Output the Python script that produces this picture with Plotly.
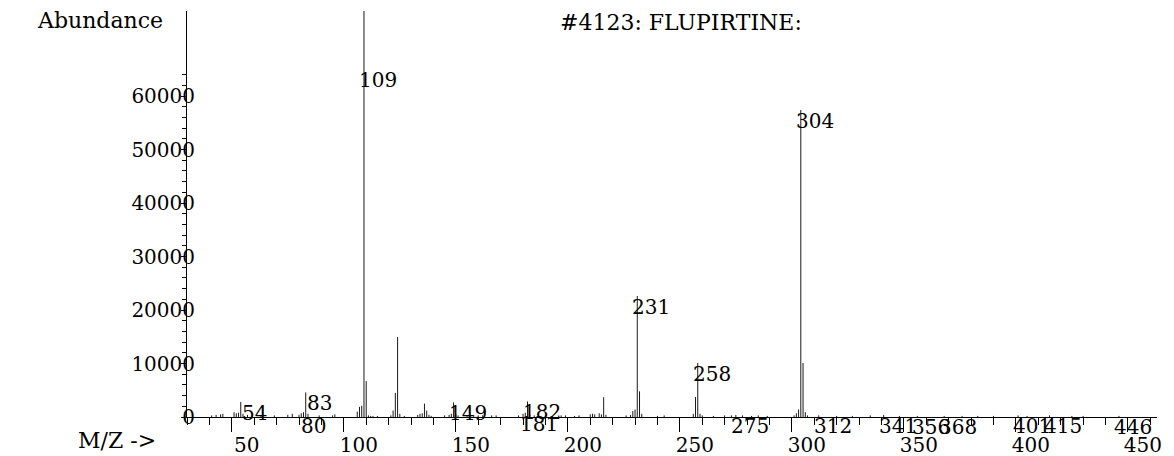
import plotly.graph_objects as go

# ---- data ----
MZ = [41, 43, 45, 46, 51, 52, 53, 54, 55, 57, 63, 69, 75, 77, 80, 81, 82, 83, 84, 89,
      95, 96, 106, 107, 108, 109, 110, 111, 112, 113, 115, 121, 122, 123, 124, 125, 127,
      133, 134, 135, 136, 137, 138, 139, 145, 147, 148, 149, 150, 151, 155, 158, 160,
      162, 166, 168, 178, 180, 181, 182, 183, 185, 190, 197, 199, 203, 205, 210, 211,
      212, 214, 215, 216, 217, 226, 228, 229, 230, 231, 232, 233, 240, 243, 256, 257,
      258, 259, 260, 265, 270, 273, 275, 278, 282, 285, 289, 301, 302, 303, 304, 305,
      306, 307, 312, 320, 327, 335, 341, 348, 356, 368, 376, 383, 390, 401, 405, 415,
      425, 430, 446]
ABUND = [300, 400, 500, 600, 900, 700, 800, 2800, 600, 400, 300, 300, 400, 600, 400, 700,
         900, 4600, 600, 300, 300, 500, 1000, 1900, 2100, 76500, 6700, 300, 200, 200, 200,
         300, 1200, 4500, 14950, 600, 200, 400, 600, 700, 2500, 1200, 400, 200, 300, 400,
         600, 2750, 500, 300, 300, 400, 300, 300, 300, 300, 300, 600, 800, 2900, 500, 300,
         200, 300, 300, 200, 300, 500, 600, 500, 700, 500, 3700, 400, 300, 400, 1100, 1400,
         22620, 4800, 600, 200, 300, 600, 3750, 10090, 600, 300, 200, 300, 300, 400, 300,
         200, 300, 200, 300, 700, 1400, 57400, 10090, 900, 300, 300, 200, 200, 300, 400,
         200, 200, 200, 200, 200, 200, 300, 200, 300, 200, 200, 200]

LABELED_MZ = [54, 80, 83, 109, 149, 181, 182, 231, 258, 275, 304, 312, 341, 356, 368,
              401, 415, 446]

X_TICKS = [50, 100, 150, 200, 250, 300, 350, 400, 450]
Y_TICKS = [0, 10000, 20000, 30000, 40000, 50000, 60000]
Y_TICK_TEXT = ["0", "10000", "20000", "30000", "40000", "50000", "60000"]

TITLE = "#4123: FLUPIRTINE:"
Y_TITLE = "Abundance"
X_TITLE = "M/Z ->"

# ---- styling / layout constants ----
FONT = "DejaVu Serif"
FS = 20
LABEL_CEIL = 65000   # labels of off-scale peaks are held at this height
X_RANGE = [30, 463]
Y_RANGE = [0, 75900]

# stick spectrum as one line trace
xs, ys = [], []
for m, a in zip(MZ, ABUND):
    xs += [m, m, None]
    ys += [0, a, None]

fig = go.Figure()
fig.add_trace(go.Scatter(x=xs, y=ys, mode="lines",
                         line=dict(color="#1a1a1a", width=1),
                         hoverinfo="skip", showlegend=False))

abund_of = dict(zip(MZ, ABUND))
annotations = []
for m in LABELED_MZ:
    annotations.append(dict(x=m, y=min(abund_of[m], LABEL_CEIL), xref="x", yref="y",
                            text=str(m), showarrow=False, xshift=14, yshift=-11,
                            xanchor="center", yanchor="middle",
                            font=dict(family=FONT, size=FS, color="black")))

annotations.append(dict(x=100, y=20, xref="paper", yref="paper", text=Y_TITLE,
                        showarrow=False, xanchor="center", yanchor="middle",
                        font=dict(family=FONT, size=FS + 2, color="black")))
annotations.append(dict(x=681, y=22, xref="paper", yref="paper", text=TITLE,
                        showarrow=False, xanchor="center", yanchor="middle",
                        font=dict(family=FONT, size=FS + 2, color="black")))
annotations.append(dict(x=117, y=440, xref="paper", yref="paper", text=X_TITLE,
                        showarrow=False, xanchor="center", yanchor="middle",
                        font=dict(family=FONT, size=FS + 2, color="black")))

W, H = 1174, 456
ML, MR, MT, MB = 187, 17, 11, 39
pw, ph = W - ML - MR, H - MT - MB
# convert paper-pixel annotation positions into paper fractions
for a in annotations:
    if a["xref"] == "paper":
        a["x"] = (a["x"] - ML) / pw
        a["y"] = 1 - (a["y"] - MT) / ph

fig.update_layout(
    width=W, height=H,
    margin=dict(l=ML, r=MR, t=MT, b=MB, pad=0, autoexpand=False),
    paper_bgcolor="white", plot_bgcolor="white",
    annotations=annotations,
    showlegend=False,
)
fig.update_xaxes(range=X_RANGE, showgrid=False, zeroline=False, automargin=False,
                 showline=True, linecolor="black", linewidth=1,
                 ticks="outside", ticklen=14, tickcolor="black", tickwidth=1,
                 tickvals=X_TICKS, ticktext=[str(v) for v in X_TICKS],
                 ticklabelshift=15, ticklabelstandoff=-4,
                 minor=dict(dtick=10, tick0=0, ticks="outside", ticklen=7,
                            tickcolor="black", tickwidth=1),
                 tickfont=dict(family=FONT, size=FS, color="black"))
fig.update_yaxes(range=Y_RANGE, showgrid=False, zeroline=False, automargin=False,
                 showline=True, linecolor="black", linewidth=1,
                 ticks="outside", ticklen=5, tickcolor="black", tickwidth=1,
                 tickvals=Y_TICKS, ticktext=Y_TICK_TEXT,
                 ticklabelstandoff=-18,
                 minor=dict(tickvals=list(range(0, 66000, 2000)), ticks="outside",
                            ticklen=4, tickcolor="black", tickwidth=1),
                 tickfont=dict(family=FONT, size=FS, color="black"))

fig.write_html("out.html")
